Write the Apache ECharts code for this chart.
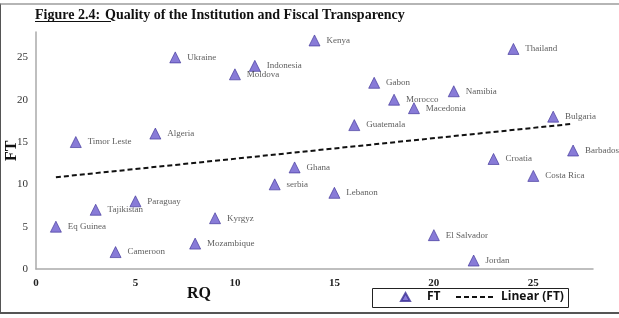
<!DOCTYPE html>
<html>
<head>
<meta charset="utf-8">
<script src="https://cdn.jsdelivr.net/npm/echarts@6/dist/echarts.min.js"></script>
<style>
html, body { margin: 0; padding: 0; background: #fff; }
#frame { position: absolute; left: 0; top: 3px; width: 619px; height: 311px; box-sizing: border-box;
  border-top: 2px solid #b5b5b5; border-left: 1px solid #555; border-bottom: 2px solid #555; }
#main { position: absolute; left: 0; top: 0; width: 619px; height: 318px; }
</style>
</head>
<body>
<div id="frame"></div>
<div id="main"></div>
<script>
// country data
var countries = ['Eq Guinea', 'Timor Leste', 'Tajikistan', 'Cameroon', 'Paraguay', 'Algeria', 'Ukraine',
	'Mozambique', 'Kyrgyz', 'Moldova', 'Indonesia', 'serbia', 'Ghana', 'Kenya', 'Lebanon', 'Guatemala',
	'Gabon', 'Morocco', 'Macedonia', 'El Salvador', 'Namibia', 'Jordan', 'Croatia', 'Thailand',
	'Costa Rica', 'Bulgaria', 'Barbados'];
var rq = [1, 2, 3, 4, 5, 6, 7, 8, 9, 10, 11, 12, 13, 14, 15, 16, 17, 18, 19, 20, 21, 22, 23, 24, 25, 26, 27];
var ft = [5, 15, 7, 2, 8, 16, 25, 3, 6, 23, 24, 10, 12, 27, 9, 17, 22, 20, 19, 4, 21, 1, 13, 26, 11, 18, 14];
var xTicks = [0, 5, 10, 15, 20, 25];
var yTicks = [0, 5, 10, 15, 20, 25];

var serif = '"Liberation Serif", "DejaVu Serif", serif';
var sans = '"Open Sans", "Noto Sans", sans-serif';

var points = [];
for (var i = 0; i < countries.length; i++) {
	points.push({ name: countries[i], value: [rq[i], ft[i]] });
}

// linear trend (least squares), like excel's trendline
var n = rq.length, sx = 0, sy = 0, sxy = 0, sxx = 0;
for (var i = 0; i < n; i++) {
	sx += rq[i]; sy += ft[i]; sxy += rq[i] * ft[i]; sxx += rq[i] * rq[i];
}
var slope = (n * sxy - sx * sy) / (n * sxx - sx * sx);
var icpt = (sy - slope * sx) / n;
var xFirst = Math.min.apply(null, rq), xLast = Math.max.apply(null, rq);
var trend = [[xFirst, icpt + slope * xFirst], [xLast, icpt + slope * xLast]];

var legendText = { fontFamily: sans, fontWeight: 'bold', fontSize: 12, color: '#111' };

var myChart = echarts.init(document.getElementById('main'));
var option = {
	animation: false,
	title: {
		left: 35,
		top: 6,
		padding: 0,
		text: '{u|Figure 2.4:} {t|Quality of the Institution and Fiscal Transparency}',
		textStyle: {
			rich: {
				u: { fontFamily: serif, fontWeight: 'bold', fontSize: 14, color: '#111' },
				t: { fontFamily: serif, fontWeight: 'bold', fontSize: 14, color: '#111' }
			}
		}
	},
	grid: { left: 36, right: 26, top: 32, bottom: 49, outerBoundsMode: 'none', containLabel: false },
	legend: [{
		left: 400,
		top: 291,
		padding: 0,
		itemWidth: 9,
		itemHeight: 8,
		itemGap: 8,
		textStyle: Object.assign({ padding: [0, 0, 0, 12] }, legendText),
		data: [{ name: 'FT', icon: 'triangle' }]
	}, {
		left: 455,
		top: 291,
		padding: 0,
		itemWidth: 40,
		itemHeight: 10,
		textStyle: legendText,
		data: [{ name: 'Linear (FT)', itemStyle: { opacity: 0 } }]
	}],
	xAxis: {
		type: 'value',
		min: 0,
		max: 28,
		interval: 5,
		splitLine: { show: false },
		axisTick: { show: false },
		axisLine: { lineStyle: { color: '#aaa', width: 1.5 } },
		axisLabel: {
			margin: 9,
			fontFamily: serif, fontWeight: 'bold', fontSize: 11, color: '#222',
			formatter: function (v) { return xTicks.indexOf(v) >= 0 ? v : ''; }
		}
	},
	yAxis: {
		type: 'value',
		min: 0,
		max: 28,
		interval: 5,
		splitLine: { show: false },
		axisTick: { show: false },
		axisLine: { show: true, lineStyle: { color: '#aaa', width: 1.5 } },
		axisLabel: {
			margin: 8,
			fontFamily: serif, fontSize: 11, color: '#333',
			formatter: function (v) { return yTicks.indexOf(v) >= 0 ? v : ''; }
		}
	},
	graphic: [
		{ type: 'line', shape: { x1: 35, y1: 21.5, x2: 111, y2: 21.5 }, style: { stroke: '#111', lineWidth: 1 } },
		{ type: 'rect', shape: { x: 372.5, y: 288.5, width: 196, height: 19 }, style: { fill: null, stroke: '#222', lineWidth: 1 } },
		{ type: 'text', left: 187, top: 286, style: { text: 'RQ', fontFamily: serif, fontWeight: 'bold', fontSize: 16, fill: '#111' } },
		{ type: 'text', x: 4, y: 161, rotation: Math.PI / 2, style: { text: 'FT', fontFamily: serif, fontWeight: 'bold', fontSize: 16, fill: '#111' } }
	],
	series: [{
		name: 'FT',
		type: 'scatter',
		symbol: 'triangle',
		symbolSize: 11,
		itemStyle: { color: '#6a5acd', borderColor: '#3b2f96', borderWidth: 0.8 },
		label: {
			show: true,
			position: 'right',
			distance: 6,
			formatter: '{b}',
			fontFamily: serif,
			fontSize: 9,
			color: '#333'
		},
		data: points
	}, {
		name: 'Linear (FT)',
		type: 'line',
		symbol: 'none',
		lineStyle: { color: '#111', width: 2, type: [5, 3] },
		itemStyle: { color: '#111' },
		data: trend
	}]
};
myChart.setOption(option);
</script>
</body>
</html>
